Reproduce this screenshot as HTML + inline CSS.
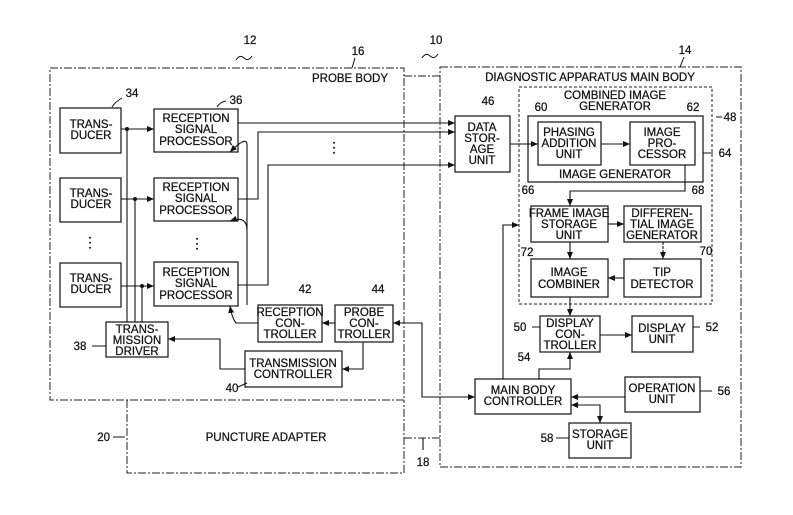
<!DOCTYPE html>
<html><head><meta charset="utf-8"><style>
html,body{margin:0;padding:0;background:#fff}
svg{display:block}
text{font-family:"Liberation Sans",sans-serif;font-size:11.5px;fill:#111;stroke:#111;stroke-width:0.25;text-anchor:middle}
</style></head><body>
<svg width="793" height="515" viewBox="0 0 793 515" xmlns="http://www.w3.org/2000/svg">
<defs>
<marker id="a" markerWidth="8" markerHeight="8" refX="7" refY="4" orient="auto" markerUnits="userSpaceOnUse"><path d="M0,1 L7,4 L0,7 Z" fill="#111"/></marker>
<marker id="s" markerWidth="8" markerHeight="8" refX="0" refY="4" orient="auto" markerUnits="userSpaceOnUse"><path d="M7,1 L0,4 L7,7 Z" fill="#111"/></marker>
</defs>
<g fill="none" stroke="#222" stroke-width="1" stroke-dasharray="8,2,2,2">
<rect x="50" y="68" width="354" height="332"/>
<path d="M127,400 V473 H404 V400"/>
<rect x="440" y="67" width="301" height="400"/>
<path d="M404,76 H440 M404,438 H440"/>
</g>
<rect x="519" y="87" width="193" height="217" fill="none" stroke="#222" stroke-dasharray="3,2"/>
<g fill="#fff" stroke="#222" stroke-width="1.3">
<rect x="60" y="108" width="61" height="45"/>
<rect x="60" y="178" width="61" height="44"/>
<rect x="60" y="263" width="61" height="44"/>
<rect x="154" y="109" width="84" height="43"/>
<rect x="154" y="178" width="84" height="43"/>
<rect x="154" y="262" width="84" height="44"/>
<rect x="106" y="322" width="62" height="35"/>
<rect x="258" y="305" width="64" height="37"/>
<rect x="335" y="305" width="58" height="37"/>
<rect x="245" y="351" width="97" height="36"/>
<rect x="455" y="116" width="55" height="56"/>
<rect x="528" y="116" width="175" height="66" fill="none"/>
<rect x="538" y="122" width="63" height="43"/>
<rect x="630" y="122" width="65" height="43"/>
<rect x="531" y="206" width="77" height="36"/>
<rect x="624" y="206" width="77" height="36"/>
<rect x="531" y="259" width="77" height="38"/>
<rect x="624" y="259" width="77" height="38"/>
<rect x="540" y="316" width="60" height="36"/>
<rect x="632" y="316" width="61" height="36"/>
<rect x="475" y="379" width="96" height="35"/>
<rect x="625" y="377" width="75" height="35"/>
<rect x="569" y="423" width="62" height="35"/>
</g>
<g fill="none" stroke="#111" stroke-width="1.1">
<path d="M121,129 H154" marker-end="url(#a)"/>
<path d="M121,199 H154" marker-end="url(#a)"/>
<path d="M121,286 H154" marker-end="url(#a)"/>
<path d="M127,322 V129 M135,322 V199 M142,322 V286"/>
<path d="M238,123 H455" marker-end="url(#a)"/>
<path d="M238,199 H258 V132 H455" marker-end="url(#a)"/>
<path d="M238,285 H268 V165 H455" marker-end="url(#a)"/>
<path d="M247,305 V145 Q247,135 230,152" marker-end="url(#a)"/>
<path d="M247,230 Q247,215 230,221" marker-end="url(#a)"/>
<path d="M258,323 H236 Q232,318 230,306" marker-end="url(#a)"/>
<path d="M335,323 H322" marker-end="url(#a)"/>
<path d="M363,342 V369 H342" marker-end="url(#a)"/>
<path d="M245,369 H220 V339 H168" marker-end="url(#a)"/>
<path d="M393,323 H422 V397 H475" marker-start="url(#s)" marker-end="url(#a)"/>
<path d="M510,144 H538" marker-end="url(#a)"/>
<path d="M601,144 H630" marker-end="url(#a)"/>
<path d="M685,165 V191 H570 V206" marker-end="url(#a)"/>
<path d="M608,224 H624" marker-end="url(#a)"/>
<path d="M663,242 V259" marker-end="url(#a)" stroke-dasharray="3,1"/>
<path d="M624,278 H608" marker-end="url(#a)"/>
<path d="M570,242 V259" marker-end="url(#a)"/>
<path d="M570,297 V316" marker-end="url(#a)"/>
<path d="M600,335 H632" marker-end="url(#a)"/>
<path d="M503,379 V225 H519" marker-end="url(#a)"/>
<path d="M539,379 V369 H570 V352" marker-end="url(#a)"/>
<path d="M625,397 H571" marker-end="url(#a)"/>
<path d="M571,405 H600 V423" marker-start="url(#s)" marker-end="url(#a)"/>
<path d="M423,438 V450 M113,437 H125 M92,346 H106 M238,387 L247,383 M700,327 H693 M712,391 H700 M532,327 H540 M556,438 H569 M713,153 H703 M722,117 H716"/>
</g>
<g fill="#111">
<circle cx="127" cy="129" r="2"/><circle cx="135" cy="199" r="2"/><circle cx="142" cy="286" r="2"/>
</g>
<text x="350" y="82">PROBE BODY</text>
<text x="590" y="81">DIAGNOSTIC APPARATUS MAIN BODY</text>
<text x="615" y="99">COMBINED IMAGE</text><text x="615" y="110">GENERATOR</text>
<text x="266" y="441">PUNCTURE ADAPTER</text>
<g>
<text x="91" y="128">TRANS-</text><text x="91" y="139">DUCER</text>
<text x="91" y="197">TRANS-</text><text x="91" y="208">DUCER</text>
<text x="91" y="282">TRANS-</text><text x="91" y="293">DUCER</text>
<text x="196" y="122">RECEPTION</text><text x="196" y="133">SIGNAL</text><text x="196" y="145">PROCESSOR</text>
<text x="196" y="191">RECEPTION</text><text x="196" y="202">SIGNAL</text><text x="196" y="214">PROCESSOR</text>
<text x="196" y="276">RECEPTION</text><text x="196" y="287">SIGNAL</text><text x="196" y="299">PROCESSOR</text>
<text x="137" y="333">TRANS-</text><text x="137" y="344">MISSION</text><text x="137" y="355">DRIVER</text>
<text x="290" y="316">RECEPTION</text><text x="290" y="327">CON-</text><text x="290" y="338">TROLLER</text>
<text x="364" y="316">PROBE</text><text x="364" y="327">CON-</text><text x="364" y="338">TROLLER</text>
<text x="293" y="367">TRANSMISSION</text><text x="293" y="378">CONTROLLER</text>
<text x="482" y="131">DATA</text><text x="482" y="142">STOR-</text><text x="482" y="153">AGE</text><text x="482" y="164">UNIT</text>
<text x="569" y="136">PHASING</text><text x="569" y="147">ADDITION</text><text x="569" y="158">UNIT</text>
<text x="662" y="136">IMAGE</text><text x="662" y="147">PRO-</text><text x="662" y="158">CESSOR</text>
<text x="615" y="178">IMAGE GENERATOR</text>
<text x="569" y="217">FRAME IMAGE</text><text x="569" y="228">STORAGE</text><text x="569" y="239">UNIT</text>
<text x="662" y="217">DIFFEREN-</text><text x="662" y="228">TIAL IMAGE</text><text x="662" y="239">GENERATOR</text>
<text x="569" y="276">IMAGE</text><text x="569" y="288">COMBINER</text>
<text x="662" y="276">TIP</text><text x="662" y="288">DETECTOR</text>
<text x="570" y="327">DISPLAY</text><text x="570" y="338">CON-</text><text x="570" y="349">TROLLER</text>
<text x="662" y="332">DISPLAY</text><text x="662" y="343">UNIT</text>
<text x="523" y="394">MAIN BODY</text><text x="523" y="405">CONTROLLER</text>
<text x="662" y="392">OPERATION</text><text x="662" y="403">UNIT</text>
<text x="600" y="438">STORAGE</text><text x="600" y="449">UNIT</text>
</g>
<g>
<text x="90" y="247" style="font-size:14px">⋮</text>
<text x="197" y="248" style="font-size:14px">⋮</text>
<text x="334" y="152" style="font-size:14px">⋮</text>
</g>
<g>
<text x="250" y="44">12</text><text x="436" y="44">10</text>
<text x="358" y="55">16</text><text x="685" y="54">14</text>
<text x="132" y="97">34</text><text x="236" y="104">36</text>
<text x="305" y="293">42</text><text x="378" y="293">44</text>
<text x="80" y="350">38</text><text x="232" y="392">40</text>
<text x="110" y="441" style="text-anchor:end">20</text>
<text x="423" y="466">18</text>
<text x="488" y="105">46</text><text x="730" y="121">48</text>
<text x="541" y="111">60</text><text x="693" y="111">62</text><text x="725" y="157">64</text>
<text x="528" y="194">66</text><text x="698" y="194">68</text>
<text x="527" y="256">72</text><text x="706" y="255">70</text>
<text x="520" y="331">50</text><text x="712" y="331">52</text>
<text x="524" y="361">54</text><text x="724" y="395">56</text><text x="547" y="442">58</text>
</g>
<g fill="none" stroke="#111">
<path d="M236,60 q4,-6 8,-2 q4,4 8,-2"/>
<path d="M422,58 q4,-6 8,-2 q4,4 8,-2"/>
<path d="M112,107 q3,-5 10,-9 M217,107 q3,-5 9,-6 M355,58 L352,68 M684,57 L680,67"/>
</g>
</svg>
</body></html>
